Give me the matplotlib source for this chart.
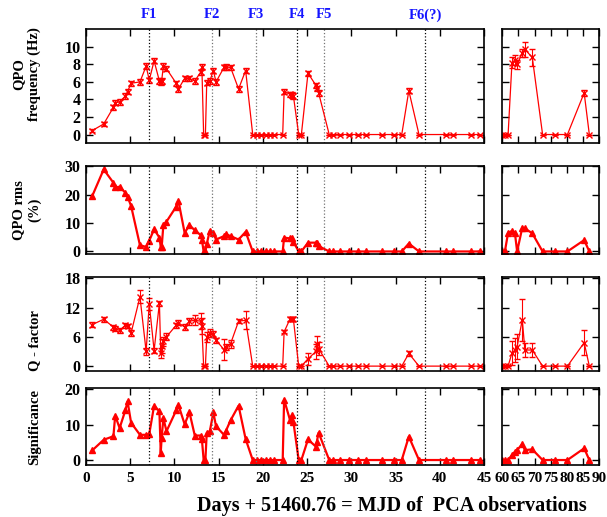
import numpy as np
import matplotlib.pyplot as plt

# Observation days (left block: 0-45, right block: 60-90)
x_left = [0.7, 2.0, 3.1, 3.3, 3.8, 4.45, 4.7, 5.1, 6.1, 6.8,
          7.15, 7.7, 8.3, 8.45, 8.55, 8.75, 9.1, 10.2, 10.45, 11.15,
          11.7, 12.3, 12.95, 13.1, 13.3, 13.5, 13.65, 14.0, 14.4, 14.7,
          15.6, 15.8, 16.35, 17.25, 18.05, 18.85, 19.3, 19.75, 20.35, 20.8,
          21.2, 22.24, 22.4, 23.05, 23.3, 23.45, 24.05, 24.35, 25.1, 26.0,
          26.1, 26.3, 27.5, 27.95, 28.7, 29.7, 30.7, 31.65, 33.45, 34.8,
          35.7, 36.5, 37.65, 40.65, 41.5, 43.55, 44.55]
x_right = [60.0, 60.8, 61.8, 63.0, 63.9, 64.6, 66.2, 67.0, 69.3, 72.5,
           76.4, 80.2, 85.4, 87.0]

# QPO frequency (Hz)
freq_left = [0.45, 1.2, 3.1, 3.65, 3.7, 4.4, 4.9, 5.85, 6.0, 7.8,
             6.2, 8.4, 6.1, 6.0, 6.1, 7.8, 7.5, 5.85, 5.2, 6.4,
             6.4, 6.1, 7.1, 7.75, 0, 0, 5.9, 6.1, 7.3, 6.0,
             7.65, 7.7, 7.65, 5.2, 7.3, 0, 0, 0, 0, 0,
             0, 0, 4.9, 4.6, 4.5, 4.4, 0, 0, 7.0, 5.6,
             5.25, 4.75, 0, 0, 0, 0, 0, 0, 0, 0,
             0, 5.0, 0, 0, 0, 0, 0]
freq_err_left = [0.2, 0.2, 0.3, 0.3, 0.3, 0.3, 0.3, 0.3, 0.3, 0.3,
                 0.3, 0.3, 0.3, 0.3, 0.3, 0.3, 0.3, 0.3, 0.3, 0.3,
                 0.3, 0.3, 0.3, 0.3, 0, 0, 0.3, 0.3, 0.3, 0.3,
                 0.3, 0.3, 0.3, 0.3, 0.3, 0, 0, 0, 0, 0,
                 0, 0, 0.3, 0.3, 0.3, 0.3, 0, 0, 0.3, 0.3,
                 0.3, 0.3, 0, 0, 0, 0, 0, 0, 0, 0,
                 0, 0.3, 0, 0, 0, 0, 0]
freq_right = [0, 0, 0, 8.2, 8.5, 8.0, 9.3, 9.7, 8.8, 0, 0, 0, 4.75, 0]
freq_err_right = [0, 0, 0, 0.6, 0.6, 0.5, 0.5, 0.9, 1.0, 0, 0, 0, 0.3, 0]

# QPO rms (%)
rms_left = [19.5, 28.9, 24.2, 22.6, 22.8, 20.7, 19.3, 16.0, 2.2, 1.6,
            3.8, 7.8, 4.9, 1.6, 1.4, 9.3, 10.5, 15.8, 17.8, 6.6,
            9.2, 7.5, 5.8, 4.2, 0, 0, 2.6, 7.3, 6.4, 4.2,
            5.4, 6.1, 5.4, 4.2, 6.9, 0, 0, 0, 0, 0,
            0, 0, 4.9, 4.6, 4.9, 3.4, 0, 0, 3.1, 3.1,
            3.1, 1.9, 0, 0, 0, 0, 0, 0, 0, 0,
            0, 2.8, 0, 0, 0, 0, 0]
rms_right = [0, 0, 6.6, 7.2, 6.6, 0, 8.4, 8.1, 6.4, 0, 0, 0, 4.0, 0]

# Q - factor
q_left = [8.5, 9.6, 8.0, 7.7, 7.3, 8.4, 8.2, 6.8, 14.2, 3.0,
          12.8, 3.2, 12.9, 2.7, 4.1, 5.1, 6.0, 8.4, 8.9, 8.0,
          9.2, 9.4, 9.2, 8.2, 0, 0, 6.0, 6.8, 6.6, 5.3,
          3.4, 3.9, 4.6, 9.2, 9.4, 0, 0, 0, 0, 0,
          0, 0, 7.0, 9.6, 9.7, 9.6, 0, 0, 1.5, 3.0,
          4.6, 3.6, 0, 0, 0, 0, 0, 0, 0, 0,
          0, 2.6, 0, 0, 0, 0, 0]
q_err_left = [0.5, 0.5, 0.5, 0.5, 0.5, 0.5, 0.4, 0.7, 1.3, 0.8,
              1.2, 0.6, 0.5, 1.1, 1.5, 0.9, 0.7, 0.5, 0.5, 0.6,
              0.7, 1.0, 1.6, 1.7, 0, 0, 1.0, 0.8, 0.6, 0.5,
              2.1, 0.6, 0.8, 0.4, 1.8, 0, 0, 0, 0, 0,
              0, 0, 0.3, 0.4, 0.4, 0.4, 0, 0, 1.2, 1.6,
              1.5, 1.3, 0, 0, 0, 0, 0, 0, 0, 0,
              0, 0.6, 0, 0, 0, 0, 0]
q_right = [0, 0, 0, 2.7, 3.3, 4.0, 9.5, 3.3, 3.3, 0, 0, 0, 4.8, 0]
q_err_right = [0, 0, 0, 2.5, 2.5, 2.5, 4.3, 1.5, 1.5, 0, 0, 0, 2.6, 0]

# Significance
sig_left = [2.7, 5.7, 6.7, 12.5, 9.0, 14.0, 16.5, 10.5, 7.1, 7.1,
            7.3, 15.3, 13.7, 2.0, 6.2, 11.8, 8.1, 14.0, 15.5, 10.1,
            13.4, 6.9, 6.9, 5.9, 0.1, 0, 7.6, 8.1, 13.4, 9.5,
            7.1, 8.1, 11.2, 15.3, 5.9, 0, 0, 0, 0, 0,
            0, 0, 17.0, 11.4, 12.6, 10.7, 0, 0, 5.8, 3.75,
            5.2, 7.7, 0, 0, 0, 0, 0, 0, 0, 0,
            0, 6.6, 0, 0, 0, 0, 0]
sig_right = [0, 0, 0, 1.4, 2.3, 2.8, 4.5, 2.8, 3.0, 0, 0, 0, 3.3, 0]

# Flare markers
flare_x = [7.12, 14.25, 19.18, 23.9, 26.9, 38.35]
flare_names = ['F1', 'F2', 'F3', 'F4', 'F5', 'F6(?)']
flare_colors = ['k', '0.45', '0.45', 'k', '0.45', 'k']

plt.rcParams.update({
    'font.family': 'serif',
    'font.serif': ['Liberation Serif', 'DejaVu Serif'],
    'font.weight': 'bold',
    'font.size': 11})

W, H = 607, 517
fig = plt.figure(figsize=(W / 100, H / 100), dpi=100)


def box(x0, x1, top, bot):
    return [x0 / W, 1 - bot / H, (x1 - x0) / W, (bot - top) / H]


rows = [(29.3, 143.3), (166.3, 254.3), (277.3, 371.0), (388.3, 465.0)]
panels = [
    (freq_left, freq_err_left, freq_right, freq_err_right, (-1, 12), [0, 2, 4, 6, 8, 10]),
    (rms_left, None, rms_right, None, (-1, 30), [0, 10, 20, 30]),
    (q_left, q_err_left, q_right, q_err_right, (-1, 18.2), [0, 6, 12, 18]),
    (sig_left, None, sig_right, None, (-1.4, 20.2), [0, 10, 20]),
]
ylabels = ['QPO\nfrequency (Hz)', 'QPO rms\n(%)', 'Q - factor', 'Significance']
ylabel_y = [74, 210, 341, 427]


def draw(ax, x, y, err):
    if err is not None:
        ax.errorbar(x, y, yerr=err, color='red', marker='x', ms=5, mew=1.0,
                    lw=0.9, elinewidth=0.8, capsize=2.5, capthick=0.8)
    else:
        ax.plot(x, y, color='red', marker='^', ms=5, lw=1.6)


for i, ((top, bot), (yl, el, yr, er, ylim, yt)) in enumerate(zip(rows, panels)):
    axl = fig.add_axes(box(86, 484, top, bot))
    axr = fig.add_axes(box(502.3, 599, top, bot))
    draw(axl, x_left, yl, el)
    draw(axr, x_right, yr, er)
    for fx, fc in zip(flare_x, flare_colors):
        axl.axvline(fx, color=fc, ls=':', lw=0.9)
    axl.set_xlim(0, 45)
    axr.set_xlim(60, 90)
    axl.set_xticks(np.arange(0, 46, 5))
    axr.set_xticks(np.arange(60, 91, 5))
    for ax in (axl, axr):
        ax.set_ylim(*ylim)
        ax.set_yticks(yt)
        ax.tick_params(direction='in', top=True, right=True, length=5,
                       width=1, labelsize=11.5, pad=4)
        ax.tick_params(axis='x', labelsize=11, pad=5)
        for s in ax.spines.values():
            s.set_linewidth(1.2)
        if i < 3:
            ax.tick_params(labelbottom=False)
    axr.tick_params(labelleft=False)
    fig.text(41 / W, 1 - ylabel_y[i] / H, ylabels[i], rotation=90,
             ha='right', va='center', multialignment='center',
             fontsize=10.5, fontweight='bold')

for fx, name in zip(flare_x, flare_names):
    fig.text((86 + fx / 45 * 398) / W, 1 - 15 / H, name, color='#1515ff',
             ha='center', va='center', fontsize=10.5, fontweight='bold')

fig.text(392 / W, 1 - 506 / H, 'Days + 51460.76 = MJD of  PCA observations',
         ha='center', va='center', fontsize=14.5, fontweight='bold')

fig.savefig('out.png', dpi=100)
